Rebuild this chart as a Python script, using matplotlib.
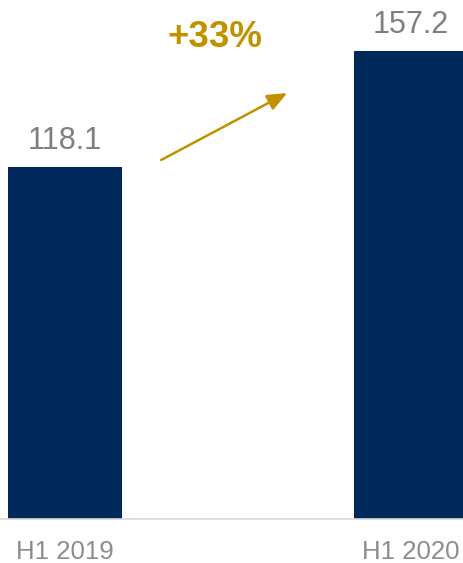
import matplotlib
matplotlib.use("Agg")
import matplotlib.pyplot as plt

categories = ["H1 2019", "H1 2020"]
values = [118.1, 157.2]
value_labels = ["118.1", "157.2"]

plt.rcParams['font.family'] = ['Liberation Sans', 'DejaVu Sans']

NAVY = "#00285A"
GOLD = "#C29100"
GRAY_VAL = "#7F7F7F"
GRAY_CAT = "#8C8C8C"

W, H, DPI = 464, 563, 100
fig = plt.figure(figsize=(W / DPI, H / DPI), dpi=DPI)
ax = fig.add_axes([0, 44 / H, 1, 519 / H])

x = list(range(len(categories)))
ax.bar(x, values, width=0.3290, color=NAVY, edgecolor="none", zorder=2)
ax.set_xlim(-0.1870, 1.1540)
ax.set_ylim(0, 174.2)

for s in ["top", "right", "left"]:
    ax.spines[s].set_visible(False)
ax.spines["bottom"].set_color("#D9D9D9")
ax.spines["bottom"].set_linewidth(1.2)
ax.set_yticks([])
ax.set_xticks([])

for xi, v, lab in zip(x, values, value_labels):
    ax.annotate(lab, xy=(xi, v), xytext=(0, 13), textcoords="offset points",
                ha="center", va="baseline", fontsize=22, color=GRAY_VAL)

for xi, cat in zip(x, categories):
    ax.annotate(cat, xy=(xi, 0), xytext=(0, -28.5), textcoords="offset points",
                ha="center", va="baseline", fontsize=18.6, color=GRAY_CAT,
                annotation_clip=False)

growth = (values[1] / values[0] - 1) * 100
ax.annotate("", xy=(0.6431, 143.0), xytext=(0.2789, 120.5),
            arrowprops=dict(arrowstyle="-|>,head_length=1.2,head_width=0.5",
                            color=GOLD, lw=1.8, shrinkA=0, shrinkB=0,
                            mutation_scale=10))
ax.text(0.435, 158.4, f"+{growth:.0f}%", ha="center", va="baseline",
        fontsize=26.5, fontweight="bold", color=GOLD)

fig.savefig("out.png", dpi=DPI)
